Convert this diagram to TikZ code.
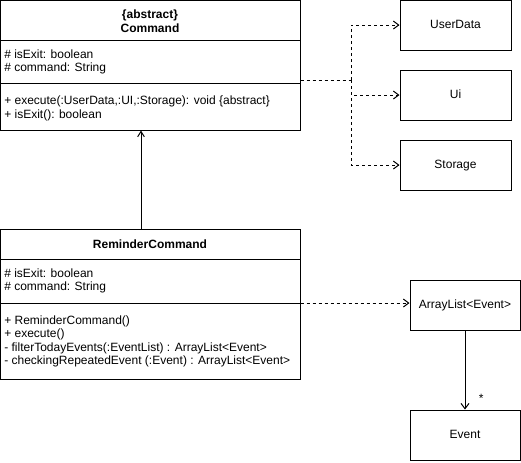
\documentclass[tikz,border=0pt]{standalone}
\usepackage{fontspec}
\setmainfont{Liberation Sans}
\usetikzlibrary{arrows.meta}
\begin{document}
\begin{tikzpicture}[x=0.75pt,y=-0.75pt,
  box/.style={draw=black, line width=0.75pt, inner sep=0pt, fill=white},
  txt/.style={anchor=west, inner sep=0pt, font=\fontsize{9}{10.5}\selectfont},
  ttl/.style={inner sep=0pt, font=\fontsize{9}{10.5}\selectfont\bfseries, align=center},
  lbl/.style={inner sep=0pt, text height=6.5pt, text depth=1.9pt, font=\fontsize{9}{10.5}\selectfont},
  dep/.style={draw=black, line width=0.75pt, dash pattern=on 2.25pt off 2.25pt, -{Straight Barb[length=4pt,width=6pt]}},
  assoc/.style={draw=black, line width=0.75pt, -{Straight Barb[length=4pt,width=6pt]}},
  inh/.style={draw=black, line width=0.75pt, -{Straight Barb[length=4pt,width=5pt]}}
]
\useasboundingbox (0,0) rectangle (521,462);
\fill[white] (0,0) rectangle (521,462);

% Command class
\node[box, minimum width=225pt, minimum height=30pt] (cmdHead) at (150,20) {};
\node[box, minimum width=225pt, minimum height=32.25pt] (cmdAttr) at (150,61.5) {};
\node[box, minimum width=225pt, minimum height=35.25pt] (cmdMeth) at (150,106.5) {};
\node[ttl] (cmdTitle) at (150,21) {\{abstract\}\\Command};
\node[txt] (ca1) at (4,54) {\# isExit: boolean};
\node[txt] (ca2) at (4,68) {\# command: String};
\node[txt] (cm1) at (4,101) {+ execute(:UserData,:UI,:Storage): void \{abstract\}};
\node[txt] (cm2) at (4,115) {+ isExit(): boolean};

% ReminderCommand class
\node[box, minimum width=225pt, minimum height=22.5pt] (remHead) at (150,244.5) {};
\node[box, minimum width=225pt, minimum height=33pt] (remAttr) at (150,281.5) {};
\node[box, minimum width=225pt, minimum height=57pt] (remMeth) at (150,341.5) {};
\node[ttl] (remTitle) at (150,244) {ReminderCommand};
\node[txt] (ra1) at (4,273) {\# isExit: boolean};
\node[txt] (ra2) at (4,287) {\# command: String};
\node[txt] (rm1) at (4,321) {+ ReminderCommand()};
\node[txt] (rm2) at (4,334.5) {+ execute()};
\node[txt] (rm3) at (4,348) {- filterTodayEvents(:EventList) : ArrayList<Event>};
\node[txt] (rm4) at (4,361.5) {- checkingRepeatedEvent (:Event) : ArrayList<Event>};

% Right boxes
\node[box, minimum width=83.25pt, minimum height=37.5pt] (userdata) at (455.5,25) {};
\node[lbl] at (userdata) {UserData};
\node[box, minimum width=83.25pt, minimum height=37.5pt] (ui) at (455.5,95) {};
\node[lbl] at (ui) {Ui};
\node[box, minimum width=83.25pt, minimum height=37.5pt] (storage) at (455.5,165) {};
\node[lbl] at (storage) {Storage};
\node[box, minimum width=82.5pt, minimum height=37.5pt] (arraylist) at (465,305) {};
\node[lbl] at (arraylist) {ArrayList<Event>};
\node[box, minimum width=82.5pt, minimum height=37.5pt] (event) at (465,435) {};
\node[lbl] at (event) {Event};

% Connectors
\coordinate (jx) at (351,80);
\draw[draw=black, line width=0.75pt, dash pattern=on 2.25pt off 2.25pt] (cmdAttr.east |- jx) -- (jx);
\draw[dep] (jx) |- (userdata.west);
\draw[dep] (jx) |- (ui.west);
\draw[dep] (jx) |- (storage.west);
\draw[inh] (remHead.north -| 141,0) -- (cmdMeth.south -| 141,0);
\draw[dep] (remMeth.north east) -- (arraylist.west |- remMeth.north east);
\draw[assoc] (arraylist.south) -- (event.north) node[pos=1, anchor=south west, xshift=10pt, yshift=3pt, lbl] {*};
\end{tikzpicture}
\end{document}
